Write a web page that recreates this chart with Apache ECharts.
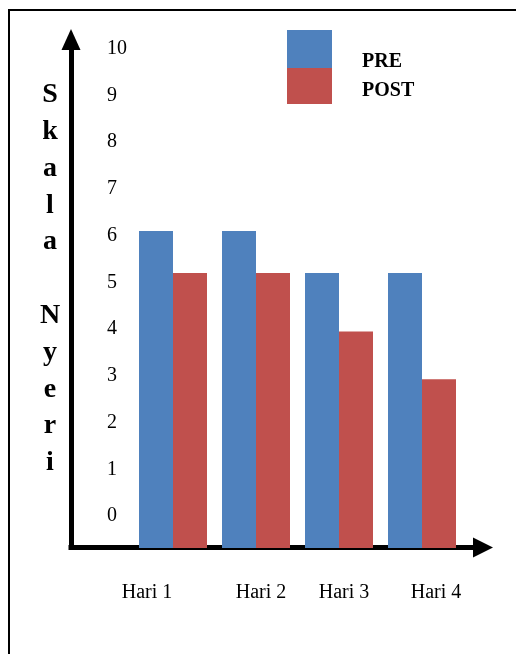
<!DOCTYPE html>
<html>
<head>
<meta charset="utf-8">
<script src="https://cdn.jsdelivr.net/npm/echarts@6/dist/echarts.min.js"></script>
<style>
html,body{margin:0;padding:0;background:#fff;}
#chart{width:516px;height:654px;}
</style>
</head>
<body>
<div id="chart"></div>
<script>
const categories = ['Hari 1', 'Hari 2', 'Hari 3', 'Hari 4'];
const preValues = [6.1, 6.1, 5.2, 5.2];
const postValues = [5.2, 5.2, 3.95, 2.93];
const yTickLabels = [0, 1, 2, 3, 4, 5, 6, 7, 8, 9, 10];
const seriesNames = ['PRE', 'POST'];
const yTitle = 'Skala Nyeri';

const FONT = '"Liberation Serif", "Times New Roman", serif';
const labelShift = [[0, 52, 0, 0], [0, 0, 0, 10], [0, 0, 0, 10], [0, 0, 0, 28]];

const titleText = yTitle.split('').join('\n');

const chart = echarts.init(document.getElementById('chart'), null, {renderer: 'canvas'});
chart.setOption({
  backgroundColor: '#fff',
  animation: false,
  graphic: [
    {type: 'rect', x: 9, y: 10, shape: {x: 0, y: 0, width: 640, height: 720},
     style: {fill: 'none', stroke: '#000', lineWidth: 2}, silent: true},
    {type: 'text', x: 50, y: 279,
     style: {text: titleText, fontFamily: FONT, fontWeight: 'bold', fontSize: 28,
             lineHeight: 36.8, align: 'center', verticalAlign: 'middle', fill: '#000'}}
  ],
  legend: [
    {data: [seriesNames[0]], orient: 'vertical', left: 287, top: 23, padding: 0,
     itemWidth: 45, itemHeight: 38, itemGap: 0, icon: 'rect',
     formatter: name => '\n' + name,
     textStyle: {fontFamily: FONT, fontWeight: 'bold', fontSize: 20, lineHeight: 26,
                 color: '#000', padding: [0, 0, 0, 25]}},
    {data: [seriesNames[1]], orient: 'vertical', left: 287, top: 68, padding: 0,
     itemWidth: 45, itemHeight: 36, itemGap: 0, icon: 'rect',
     formatter: name => '\n' + name,
     textStyle: {fontFamily: FONT, fontWeight: 'bold', fontSize: 20, lineHeight: 10,
                 color: '#000', padding: [0, 0, 0, 25]}}
  ],
  grid: [
    {left: 71, right: 33, top: 39.5, bottom: 106.5, containLabel: false},
    {left: 131.5, right: 52.5, top: 29, bottom: 106, containLabel: false}
  ],
  xAxis: [
    {type: 'value', gridIndex: 0, min: 0, max: 1,
     axisLine: {show: true, onZero: false, symbol: ['none', 'triangle'], symbolSize: [20, 20],
                lineStyle: {color: '#000', width: 5, cap: 'square'}},
     axisTick: {show: false}, axisLabel: {show: false}, splitLine: {show: false}},
    {type: 'category', gridIndex: 1,
     data: categories.map((c, i) => ({value: c, textStyle: {padding: labelShift[i]}})),
     axisLine: {show: false}, axisTick: {show: false},
     axisLabel: {margin: 35, fontFamily: FONT, fontSize: 20, lineHeight: 20, color: '#000'}}
  ],
  yAxis: [
    {type: 'value', gridIndex: 0, min: 0, max: 1,
     axisLine: {show: true, onZero: false, symbol: ['none', 'triangle'], symbolSize: [19, 21],
                lineStyle: {color: '#000', width: 5, cap: 'square'}},
     axisTick: {show: false}, axisLabel: {show: false}, splitLine: {show: false}},
    {type: 'value', gridIndex: 1, min: -0.68, max: 10.42, startValue: -0.68,
     axisLine: {show: false}, axisTick: {show: false}, splitLine: {show: false},
     axisLabel: {customValues: yTickLabels, align: 'left', margin: 24.5,
                 fontFamily: FONT, fontSize: 20, color: '#000'}}
  ],
  series: [
    {name: seriesNames[0], type: 'bar', xAxisIndex: 1, yAxisIndex: 1, data: preValues,
     barWidth: 34, barGap: '0%', itemStyle: {color: '#4F81BD'}},
    {name: seriesNames[1], type: 'bar', xAxisIndex: 1, yAxisIndex: 1, data: postValues,
     barWidth: 34, barGap: '0%', itemStyle: {color: '#C0504D'}}
  ]
});
</script>
</body>
</html>
